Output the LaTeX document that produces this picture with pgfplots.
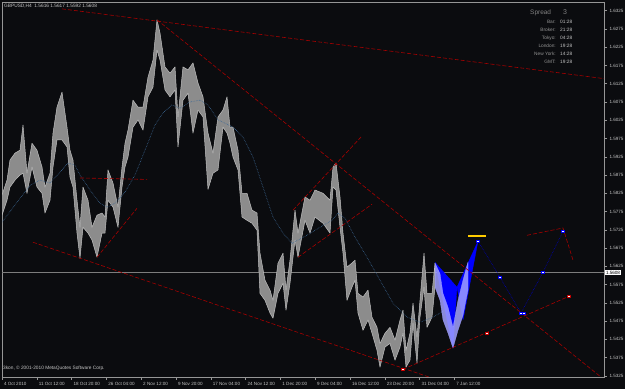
\documentclass[border=0pt]{standalone}
\usepackage{pgfplots}
\pgfplotsset{compat=1.18}
\usepackage{fontspec}
\setmainfont{Liberation Sans}
\definecolor{bg}{RGB}{11,12,15}
\definecolor{barg}{RGB}{140,140,140}
\definecolor{barl}{RGB}{190,190,190}
\definecolor{dred}{RGB}{165,0,0}
\definecolor{frm}{RGB}{150,150,150}
\definecolor{pline}{RGB}{125,125,125}
\definecolor{lbl}{RGB}{195,195,195}
\definecolor{mac}{RGB}{60,105,150}
\definecolor{pblue}{RGB}{0,0,255}
\definecolor{lblue}{RGB}{160,160,255}
\definecolor{gold}{RGB}{255,204,0}
\pgfplotstableread{
x y
2 1.5746
15 1.5793
30 1.5847
40 1.5861
50 1.5853
60 1.5883
68 1.5908
75 1.5902
80 1.5875
90 1.5834
100 1.5798
107 1.5787
115 1.5798
125 1.5828
135 1.5875
145 1.5943
155 1.6012
163 1.6045
172 1.6067
180 1.6058
190 1.6075
200 1.6080
208 1.6067
218 1.6026
225 1.6017
233 1.6006
243 1.5979
253 1.5924
263 1.5842
273 1.5760
283 1.5716
292 1.5688
300 1.5700
307 1.5710
320 1.5732
332 1.5751
338 1.5771
345 1.5757
355 1.5705
367 1.5650
380 1.5587
393 1.5524
407 1.5486
420 1.5472
433 1.5486
447 1.5508
457 1.5497
}\ma
\begin{document}
\begin{tikzpicture}
\fill[bg] (0,0) rectangle (625bp,389bp);
\begin{axis}[
  at={(2bp,12bp)}, anchor=south west,
  scale only axis, width=602bp, height=375bp,
  xmin=2, xmax=604, ymin=1.53220, ymax=1.63488,
  axis line style={draw=frm, line width=0.6bp},
  tick style={draw=frm, line width=0.5bp},
  major tick length=3bp, tick align=outside,
  xtick pos=bottom, ytick pos=right, yticklabel pos=right,
  /pgf/number format/assume math mode=true,
  ticklabel style={font=\fontsize{4.6}{5}\selectfont, text=lbl},
  xtick={2,36.8,71.6,106.4,141.2,176,210.8,245.6,280.4,315.2,350,384.8,419.6,454.4},
  xticklabels={4 Oct 2010,11 Oct 12:00,18 Oct 20:00,26 Oct 04:00,2 Nov 12:00,9 Nov 20:00,17 Nov 04:00,24 Nov 12:00,1 Dec 20:00,9 Dec 04:00,16 Dec 12:00,23 Dec 20:00,31 Dec 04:00,7 Jan 12:00},
  xticklabel style={anchor=north west, xshift=-1.5bp, yshift=1.5bp},
  ytick={1.5325,1.5375,1.5425,1.5475,1.5525,1.5575,1.5625,1.5675,1.5725,1.5775,1.5825,1.5875,1.5925,1.5975,1.6025,1.6075,1.6125,1.6175,1.6225,1.6275,1.6325},
  yticklabels={1.5325,1.5375,1.5425,1.5475,1.5525,1.5575,1.5625,1.5675,1.5725,1.5775,1.5825,1.5875,1.5925,1.5975,1.6025,1.6075,1.6125,1.6175,1.6225,1.6275,1.6325},
  yticklabel style={anchor=west, xshift=-1bp},
  every axis plot/.append style={line join=round},
]
% current price line
\addplot[pline, line width=0.4bp] coordinates {(2,1.5608) (604,1.5608)};
% price bars: high path forward, low path back
\addplot[fill=barg, draw=barl, line width=0.5bp] coordinates {
(2,1.5820) (7,1.5861) (10,1.5916) (15,1.5935) (20,1.5943) (23,1.6012) (27,1.5880) (32,1.5962) (37,1.5943) (42,1.5897)
(45,1.5842) (50,1.5880) (53,1.5990) (57,1.6061) (62,1.6102) (67,1.6006) (70,1.5943) (73,1.5916) (77,1.5806) (80,1.5732)
(83,1.5842) (88,1.5806) (92,1.5732) (97,1.5765) (102,1.5771) (105,1.5760) (108,1.5889) (113,1.5853) (118,1.5787) (122,1.5897)
(125,1.5962) (128,1.5998) (133,1.6080) (138,1.6061) (143,1.6061) (148,1.6143) (153,1.6190) (157,1.6300) (160,1.6264) (165,1.6171)
(170,1.6154) (175,1.6171) (178,1.6034) (183,1.6171) (188,1.6163) (193,1.6182) (198,1.6127) (203,1.6089) (208,1.5990) (213,1.5935)
(218,1.6034) (223,1.6053) (227,1.6089) (230,1.6006) (233,1.6006) (238,1.5943) (242,1.5825) (247,1.5825) (252,1.5779) (257,1.5771)
(260,1.5661) (265,1.5587) (270,1.5560) (273,1.5532) (278,1.5634) (283,1.5661) (286,1.5560) (290,1.5642) (295,1.5779) (298,1.5716)
(305,1.5815) (310,1.5806) (315,1.5834) (323,1.5825) (330,1.5806) (333,1.5897) (336,1.5908) (340,1.5815) (343,1.5716) (347,1.5623)
(352,1.5634) (355,1.5642) (358,1.5551) (363,1.5541) (368,1.5560) (372,1.5486) (377,1.5458) (380,1.5414) (385,1.5442) (390,1.5458)
(395,1.5423) (400,1.5478) (403,1.5505) (406,1.5395) (410,1.5442) (413,1.5524) (417,1.5431) (420,1.5532) (424,1.5661) (427,1.5551)
(432,1.5551) (435,1.5634)
(435,1.5568) (432,1.5486) (427,1.5458) (424,1.5568) (420,1.5486) (417,1.5360) (413,1.5469) (410,1.5368) (406,1.5349) (403,1.5442)
(400,1.5404) (395,1.5368) (390,1.5414) (385,1.5404) (380,1.5349) (377,1.5395) (372,1.5442) (368,1.5478) (363,1.5450) (358,1.5497)
(355,1.5587) (352,1.5568) (347,1.5532) (343,1.5661) (340,1.5732) (336,1.5834) (333,1.5842) (330,1.5716) (323,1.5743) (315,1.5760)
(310,1.5716) (305,1.5751) (298,1.5650) (295,1.5697) (290,1.5579) (286,1.5505) (283,1.5579) (278,1.5551) (273,1.5483) (270,1.5497)
(265,1.5532) (260,1.5551) (257,1.5724) (252,1.5743) (247,1.5751) (242,1.5760) (238,1.5889) (233,1.5924) (230,1.5962) (227,1.5990)
(223,1.6006) (218,1.5889) (213,1.5880) (208,1.5836) (203,1.6034) (198,1.6053) (193,1.5990) (188,1.6099) (183,1.6080) (178,1.5952)
(175,1.6108) (170,1.6089) (165,1.6108) (160,1.6190) (157,1.6217) (153,1.6116) (148,1.6089) (143,1.5998) (138,1.6026) (133,1.6006)
(128,1.5924) (125,1.5897) (122,1.5842) (118,1.5732) (113,1.5787) (108,1.5806) (105,1.5716) (102,1.5716) (97,1.5650) (92,1.5697)
(88,1.5716) (83,1.5732) (80,1.5647) (77,1.5716) (73,1.5842) (70,1.5869) (67,1.5952) (62,1.5971) (57,1.5971) (53,1.5897)
(50,1.5806) (45,1.5771) (42,1.5825) (37,1.5842) (32,1.5897) (27,1.5825) (23,1.5880) (20,1.5875) (15,1.5861) (10,1.5842)
(7,1.5806) (2,1.5765)
} -- cycle;
% moving average
\addplot[mac, line width=0.6bp, densely dotted] table[x=x,y=y] {\ma};
% harmonic pattern
\addplot[fill=pblue, draw=pblue, line width=0.3bp] coordinates {(435,1.5636) (453,1.5401) (457,1.5568)} -- cycle;
\addplot[fill=pblue, draw=pblue, line width=0.3bp] coordinates {(457,1.5568) (463,1.5478) (478,1.5694)} -- cycle;
\addplot[fill=lblue, draw=lblue, line width=0.3bp, opacity=0.85] coordinates {
(435,1.5634) (440,1.5605) (443,1.5551) (448,1.5513) (453,1.5458) (458,1.5532) (463,1.5587) (468,1.5637)
(468,1.5560) (463,1.5491) (458,1.5450) (453,1.5401) (448,1.5442) (443,1.5478) (440,1.5532) (435,1.5568)} -- cycle;
% red dashed trend lines
\addplot[dred, line width=0.6bp, dash pattern=on 4bp off 2bp] coordinates {(62,1.6330) (604,1.6139)};
\addplot[dred, line width=0.6bp, dash pattern=on 4bp off 2bp] coordinates {(157,1.6300) (600,1.5324)};
\addplot[dred, line width=0.6bp, dash pattern=on 4bp off 2bp] coordinates {(33,1.5691) (430,1.5321)};
\addplot[dred, line width=0.6bp, dash pattern=on 4bp off 2bp] coordinates {(80,1.5867) (147,1.5863)};
\addplot[dred, line width=0.6bp, dash pattern=on 4bp off 2bp] coordinates {(97,1.5650) (137,1.5784)};
\addplot[dred, line width=0.6bp, dash pattern=on 4bp off 2bp] coordinates {(293,1.5779) (362,1.5982)};
\addplot[dred, line width=0.6bp, dash pattern=on 4bp off 2bp] coordinates {(298,1.5650) (372,1.5795)};
\addplot[dred, line width=0.6bp, dash pattern=on 4bp off 2bp] coordinates {(403,1.5343) (569,1.5543)};
\addplot[dred, line width=0.6bp, dash pattern=on 4bp off 2bp] coordinates {(527,1.5710) (563,1.5730) (573,1.5642)};
\addplot[only marks, mark=square*, mark size=1.3bp, mark options={fill=white, draw=red!80!black, line width=0.5bp}] coordinates {(403,1.5343) (487,1.5442) (569,1.5543)};
% projection
\addplot[blue!75!black, line width=0.6bp, densely dotted, mark=square*, mark size=1.3bp, mark options={solid, fill=white, draw=blue, line width=0.5bp}] coordinates {(478,1.5694) (500,1.5595) (521,1.5497) (543,1.5609) (563,1.5721)};
\addplot[only marks, mark=square*, mark size=1.3bp, mark options={fill=white, draw=blue, line width=0.5bp}] coordinates {(524,1.5497)};
\addplot[gold, line width=1.4bp] coordinates {(468,1.5708) (486,1.5708)};
\end{axis}
% texts
\node[anchor=west, text=lbl, font=\fontsize{4.8}{5}\selectfont, inner sep=0] at (4bp,383bp) {GBPUSD,H4\ \ 1.5616 1.5617 1.5592 1.5608};
\node[anchor=west, text=lbl, font=\fontsize{4.8}{5}\selectfont, inner sep=0] at (3bp,20.5bp) {3kon, © 2001-2010 MetaQuotes Software Corp.};
\node[anchor=west, text=gray, font=\fontsize{6.5}{7}\selectfont, inner sep=0] at (530bp,376bp) {Spread};
\node[anchor=west, text=gray, font=\fontsize{7}{7}\selectfont, inner sep=0] at (563bp,376.5bp) {3};
\foreach \l/\v/\yy in {Bar:/01:28/367, Broker:/21:28/359, Tokyo:/04:28/351, London:/19:28/343, New York:/14:28/335, GMT:/19:28/327}{
  \node[anchor=east, text=gray!85, font=\fontsize{4.8}{5}\selectfont, inner sep=0] at (556bp,\yy bp) {\l};
  \node[anchor=west, text=lbl, font=\fontsize{4.8}{5}\selectfont, inner sep=0] at (560bp,\yy bp) {\v};
}
\node[fill=white, text=black, font=\fontsize{4.6}{5}\selectfont, inner sep=0.8bp, anchor=west] at (605bp,116.5bp) {1.5608};
\pgfresetboundingbox
\useasboundingbox (0,0) rectangle (625bp,389bp);
\end{tikzpicture}
\end{document}
